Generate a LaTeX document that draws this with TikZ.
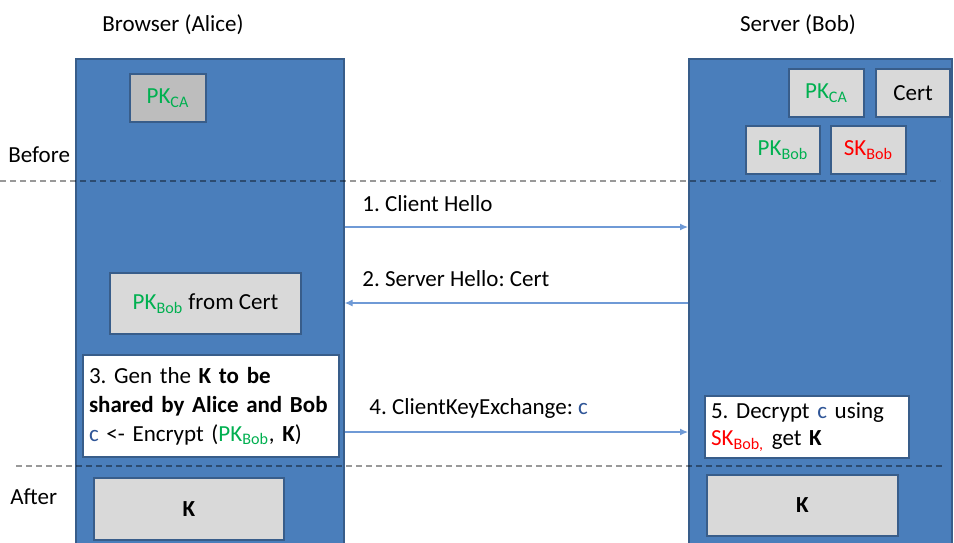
\documentclass[tikz,border=0pt]{standalone}
\usepackage{fontspec}
\setmainfont{Carlito}
\usetikzlibrary{arrows.meta, positioning}
\definecolor{lane}{HTML}{4A7EBB}
\definecolor{laneline}{HTML}{385D8A}
\definecolor{keygray}{HTML}{D9D9D9}
\definecolor{cagray}{HTML}{BDBDBD}
\definecolor{pkgreen}{HTML}{00B050}
\definecolor{skred}{HTML}{FF0000}
\definecolor{cblue}{HTML}{2F5597}
\definecolor{msgblue}{HTML}{6F9AD6}
\newcommand{\pkey}[1]{\textcolor{pkgreen}{PK\textsubscript{#1}}}
\newcommand{\skey}[1]{\textcolor{skred}{SK\textsubscript{#1}}}
\frenchspacing

\begin{document}
\begin{tikzpicture}[x=0.5pt, y=-0.5pt,
      font=\fontsize{11.5}{14.5}\selectfont,
      lanebox/.style={draw=laneline, line width=0.8pt, fill=lane, anchor=north west, inner sep=0},
      keybox/.style={draw=laneline, line width=1pt, fill=keygray, anchor=north west, inner sep=0},
      notebox/.style={draw=laneline, line width=1pt, fill=white, anchor=north west, inner xsep=3pt,
                      align=left, text width=#1},
      msg/.style={-{Latex[length=4pt, width=3.5pt]}, line width=0.6pt, msgblue},
      phase/.style={black, opacity=0.4, line width=0.75pt, dash pattern=on 3pt off 2pt}]
    \useasboundingbox (0,0) rectangle (954,542);
    \clip (0,0) rectangle (954,542);
    % the two parties
    \node[lanebox, minimum width=134pt, minimum height=250pt] (alice) at (75,58) {};
    \node[lanebox, minimum width=131.5pt, minimum height=250pt] (bob) at (688,58) {};
    \node (alicename) at (173,25) {Browser (Alice)};
    \node (bobname) at (798,25) {Server (Bob)};
    % keys before the handshake
    \node[keybox, fill=cagray, minimum width=38pt, minimum height=24pt] (aca) at (129,73) {\pkey{CA}};
    \node[keybox, minimum width=37.5pt, minimum height=24pt] (bca) at (788,68) {\pkey{CA}};
    \node[keybox, minimum width=37pt, minimum height=24pt, right=5pt of bca.north east, anchor=north west] (cert) {Cert};
    \node[keybox, minimum width=37pt, minimum height=24pt] (bpk) at (745,125) {\pkey{Bob}};
    \node[keybox, minimum width=37.5pt, minimum height=24pt, right=4.5pt of bpk.north east, anchor=north west] (bsk) {\skey{Bob}};
    % phases
    \node[anchor=west, inner xsep=0] (before) at (8,155) {Before};
    \node[anchor=west, inner xsep=0] (after) at (10,497) {After};
    \draw[phase] (0,181) -- (940,181);
    \draw[phase] (16,466) -- (944,466);
    % messages
    \coordinate (m1) at (0,227);
    \coordinate (m2) at (0,303);
    \coordinate (m4) at (0,432);
    \draw[msg] (m1 -| alice.east) -- (m1 -| bob.west);
    \draw[msg] (m2 -| bob.west) -- (m2 -| alice.east);
    \draw[msg] (m4 -| alice.east) -- (m4 -| bob.west);
    \node[anchor=west, inner xsep=0] (hello) at (362,204) {1. Client Hello};
    \node[anchor=west, inner xsep=0] (shello) at (362,279) {2. Server Hello: Cert};
    \node[anchor=west, inner xsep=0] (kex) at (369,408) {4. ClientKeyExchange: \textcolor{cblue}{c}};
    % steps on each side
    \node[keybox, minimum width=95.5pt, minimum height=30.5pt] (apk) at (109,272) {\pkey{Bob} from Cert};
    \node[notebox=122pt, minimum height=51pt] (gen) at (82,354)
      {3. Gen the \textbf{K to be}\\\textbf{shared by Alice and Bob}\\\textcolor{cblue}{c} <- Encrypt (\pkey{Bob}, \textbf{K})};
    \node[notebox=96pt, minimum height=31pt, font=\fontsize{11.5}{13.5}\selectfont] (dec) at (704,395)
      {5. Decrypt \textcolor{cblue}{c} using\\\textcolor{skred}{SK\textsubscript{Bob,}} get \textbf{K}};
    % shared key after
    \node[keybox, minimum width=95pt, minimum height=31pt] (ak) at (93,477) {\textbf{K}};
    \node[keybox, minimum width=95.5pt, minimum height=30.5pt] (bk) at (706,474) {\textbf{K}};
  \end{tikzpicture}
\end{document}
